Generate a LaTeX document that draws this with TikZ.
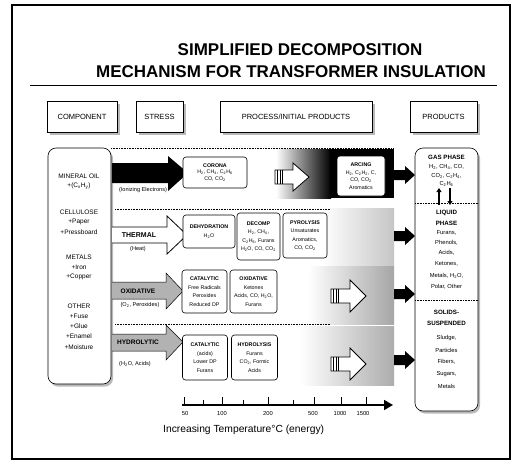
\documentclass[tikz,border=0pt]{standalone}
\usepackage{fontspec}
\setmainfont{Liberation Sans}
\usetikzlibrary{arrows.meta,shadows}
\begin{document}
\begin{tikzpicture}[x=1pt,y=-1pt,
  hdr/.style={draw, fill=white, line width=0.6pt, inner sep=0pt, font=\fontsize{7.5}{8}\selectfont,
    drop shadow={shadow xshift=2.5pt, shadow yshift=-2.5pt, fill=gray!55, opacity=1}},
  procbox/.style={draw, fill=white, rounded corners=3pt, line width=0.6pt, align=center, inner sep=0.5pt,
    font=\fontsize{5.3}{9.5}\selectfont},
  ctext/.style={font=\fontsize{6.5}{7}\selectfont, inner sep=0pt},
  ptext/.style={font=\fontsize{5.8}{6}\selectfont, inner sep=0pt},
  phead/.style={font=\fontsize{6.2}{6.5}\selectfont\bfseries, inner sep=0pt},
  slabel/.style={font=\fontsize{5.6}{6}\selectfont, inner sep=0pt},
  sep/.style={densely dotted, line width=0.6pt},
  blk/.style={fill=black},
  hollow/.style={draw, fill=white, line width=0.8pt},
  grayarrow/.style={draw, fill=gray!60, line width=0.5pt}
]
\useasboundingbox (0,0) rectangle (514,466);
\fill[white] (0,0) rectangle (514,466);
% frame
\draw[line width=1.2pt] (12,5) rectangle (510,459);
% title
\node[font=\fontsize{17}{20}\selectfont\bfseries] (t1) at (300,50) {SIMPLIFIED DECOMPOSITION};
\node[font=\fontsize{17}{20}\selectfont\bfseries] (t2) at (291,72) {MECHANISM FOR TRANSFORMER INSULATION};
\draw[line width=0.5pt] (30,85) -- (497,85);
% headers
\node[hdr, minimum width=70pt, minimum height=31pt] (hcomp) at (82,116.5) {COMPONENT};
\node[hdr, minimum width=47pt, minimum height=31pt] (hstr) at (159.5,116.5) {STRESS};
\node[hdr, minimum width=152pt, minimum height=31pt] (hproc) at (296,116.5) {PROCESS/INITIAL PRODUCTS};
\node[hdr, minimum width=67pt, minimum height=31pt] (hprod) at (443.5,116.5) {PRODUCTS};

% gradient zones
\shade[left color=white, right color=black] (276,149) rectangle (331,198);
\fill[black] (330,149) rectangle (394,198);
\shade[left color=white, right color=gray!45] (322,208) rectangle (394,265);
\shade[left color=white, right color=gray!70] (308,266) rectangle (394,324);
\shade[left color=white, right color=gray!65] (300,326) rectangle (394,385);
% dotted frame lines
\draw[sep] (111,148) -- (394,148);
\draw[sep] (115,209) -- (330,209);
\draw[sep] (115,324) -- (330,324);

% component box
\node[draw, fill=white, rounded corners=8pt, line width=0.6pt, minimum width=63pt, minimum height=236pt,
  drop shadow={shadow xshift=2pt, shadow yshift=-2.5pt, fill=gray!55, opacity=1}] (comp) at (79.5,266) {};
\node[ctext] (c1) at (79,176) {MINERAL OIL};
\node[ctext] (c2) at (79,186) {+(C\textsubscript{x}H\textsubscript{y})};
\node[ctext] (c3) at (79,212) {CELLULOSE};
\node[ctext] (c4) at (79,222) {+Paper};
\node[ctext] (c5) at (79,232) {+Pressboard};
\node[ctext] (c6) at (79,257) {METALS};
\node[ctext] (c7) at (79,267) {+Iron};
\node[ctext] (c8) at (79,277) {+Copper};
\node[ctext] (c9) at (79,306) {OTHER};
\node[ctext] (c10) at (79,316) {+Fuse};
\node[ctext] (c11) at (79,326) {+Glue};
\node[ctext] (c12) at (79,336) {+Enamel};
\node[ctext] (c13) at (79,347) {+Moisture};

% stress arrows
\fill[blk] (112,163) -- (168,163) -- (168,156) -- (188,173) -- (168,191) -- (168,183) -- (112,183) -- cycle;
\node[slabel] (s1) at (143,190) {(Ionizing Electrons)};
\draw[hollow] (112,227) -- (167,227) -- (167,216) -- (187,235) -- (167,254) -- (167,243) -- (112,243);
\node[font=\fontsize{7}{7}\selectfont\bfseries, inner sep=0pt] (s2) at (139,235) {THERMAL};
\node[slabel] (s2b) at (138,249) {(Heat)};
\draw[grayarrow] (112,282) -- (166,282) -- (166,273) -- (183,291) -- (166,309) -- (166,299) -- (112,299);
\node[font=\fontsize{6.5}{7}\selectfont\bfseries, inner sep=0pt] (s3) at (138,291) {OXIDATIVE};
\node[slabel] (s3b) at (140,305) {(O\textsubscript{2}, Peroxides)};
\draw[grayarrow] (112,334) -- (166,334) -- (166,325) -- (183,342) -- (166,360) -- (166,351) -- (112,351);
\node[font=\fontsize{6.5}{7}\selectfont\bfseries, inner sep=0pt] (s4) at (138,342) {HYDROLYTIC};
\node[slabel] (s4b) at (135,364) {(H\textsubscript{2}O, Acids)};

% process boxes row 1
\node[procbox, minimum width=64pt, minimum height=31pt] (corona) at (215,172.5)
  {\textbf{CORONA}\\[-3pt]H\textsubscript{2}, CH\textsubscript{4}, C\textsubscript{2}H\textsubscript{6}\\[-3pt]CO, CO\textsubscript{2}};
\node[procbox, minimum width=48pt, minimum height=40pt] (arcing) at (361,176)
  {\textbf{ARCING}\\[-2pt]H\textsubscript{2}, C\textsubscript{2}H\textsubscript{2}, C,\\[-2pt]CO, CO\textsubscript{2}\\[-2pt]Aromatics};
% row 2
\node[procbox, minimum width=52pt, minimum height=33pt] (dehyd) at (209,231.5)
  {\textbf{DEHYDRATION}\\H\textsubscript{2}O};
\node[procbox, minimum width=43pt, minimum height=47pt] (decomp) at (258.5,236.5)
  {\textbf{DECOMP}\\[-1pt]H\textsubscript{2}, CH\textsubscript{4},\\[-1pt]C\textsubscript{2}H\textsubscript{6}, Furans\\[-1pt]H\textsubscript{2}O, CO, CO\textsubscript{2}};
\node[procbox, minimum width=44pt, minimum height=45pt] (pyro) at (305,235.5)
  {\textbf{PYROLYSIS}\\[-1pt]Unsaturates\\[-1pt]Aromatics,\\[-1pt]CO, CO\textsubscript{2}};
% row 3
\node[procbox, minimum width=45pt, minimum height=43pt] (cat1) at (204.5,291.5)
  {\textbf{CATALYTIC}\\[-1pt]Free Radicals\\[-1pt]Peroxides\\[-1pt]Reduced DP};
\node[procbox, minimum width=47pt, minimum height=43pt] (oxid) at (253.5,291.5)
  {\textbf{OXIDATIVE}\\[-1pt]Ketones\\[-1pt]Acids, CO, H\textsubscript{2}O,\\[-1pt]Furans};
% row 4
\node[procbox, minimum width=45pt, minimum height=45pt] (cat2) at (205,357.5)
  {\textbf{CATALYTIC}\\[-1pt](acids)\\[-1pt]Lower DP\\[-1pt]Furans};
\node[procbox, minimum width=46pt, minimum height=45pt] (hydro) at (254.5,357.5)
  {\textbf{HYDROLYSIS}\\[-1pt]Furans\\[-1pt]CO\textsubscript{2}, Formic\\[-1pt]Acids};

% hollow process arrows
\draw[hollow] (275,170) -- (293,170) -- (293,163) -- (309,177) -- (293,191) -- (293,184) -- (275,184) -- cycle;
\foreach \x in {277.5,280,282.5} \draw[line width=0.5pt] (\x,170) -- (\x,184);
\draw[hollow] (331,289) -- (350,289) -- (350,280) -- (366,296) -- (350,312) -- (350,303) -- (331,303) -- cycle;
\foreach \x in {333.5,336,338.5} \draw[line width=0.5pt] (\x,289) -- (\x,303);
\draw[hollow] (331,357) -- (350,357) -- (350,348) -- (366,364) -- (350,380) -- (350,371) -- (331,371) -- cycle;
\foreach \x in {333.5,336,338.5} \draw[line width=0.5pt] (\x,357) -- (\x,371);

% black arrows to products
\foreach \yy in {175,236,294,360}
  \fill[blk] (394,\yy-5) -- (405,\yy-5) -- (405,\yy-9) -- (415,\yy) -- (405,\yy+9) -- (405,\yy+5) -- (394,\yy+5) -- cycle;

% products box
\node[draw, fill=white, rounded corners=8pt, line width=0.6pt, minimum width=63pt, minimum height=263pt,
  drop shadow={shadow xshift=2pt, shadow yshift=-2.5pt, fill=gray!55, opacity=1}] (prod) at (446.5,279.5) {};
\draw[sep] (415,203) -- (478,203);
\draw[sep] (415,300) -- (478,300);
\node[phead] (p1) at (446.5,157) {GAS PHASE};
\node[ptext] (p2) at (446.5,167) {H\textsubscript{2}, CH\textsubscript{4}, CO,};
\node[ptext] (p3) at (446.5,176) {CO\textsubscript{2}, C\textsubscript{2}H\textsubscript{4},};
\node[ptext] (p4) at (446.5,184) {C\textsubscript{2}H\textsubscript{6}};
\coordinate (ua) at (439,188); \coordinate (ub) at (439,205);
\coordinate (da) at (450,188); \coordinate (db) at (450,205);
\draw[line width=1.6pt, -{Triangle[length=4pt,width=5pt]}] (ub) -- (ua);
\draw[line width=1.6pt, -{Triangle[length=4pt,width=5pt]}] (da) -- (db);
\node[phead] (p5) at (446.5,213) {LIQUID};
\node[phead] (p6) at (446.5,223) {PHASE};
\node[ptext] (p7) at (446.5,233) {Furans,};
\node[ptext] (p8) at (446.5,243) {Phenols,};
\node[ptext] (p9) at (446.5,253) {Acids,};
\node[ptext] (p10) at (446.5,264) {Ketones,};
\node[ptext] (p11) at (446.5,276) {Metals, H\textsubscript{2}O,};
\node[ptext] (p12) at (446.5,287) {Polar, Other};
\node[phead] (p13) at (446.5,312) {SOLIDS-};
\node[phead] (p14) at (446.5,323) {SUSPENDED};
\node[ptext] (p15) at (446.5,338) {Sludge,};
\node[ptext] (p16) at (446.5,350) {Particles};
\node[ptext] (p17) at (446.5,362) {Fibers,};
\node[ptext] (p18) at (446.5,374) {Sugars,};
\node[ptext] (p19) at (446.5,386) {Metals};

% temperature axis
\coordinate (ax0) at (182,405);
\coordinate (ax1) at (393,405);
\draw[line width=1.6pt, -{Triangle[length=9pt,width=10pt]}] (ax0) -- (ax1);
\foreach \x in {184,222,268,314,341,366} \draw[line width=0.6pt] (\x,405) -- (\x,397);
\foreach \x in {203,243,293} \draw[line width=0.6pt] (\x,405) -- (\x,400);
\foreach \x/\l in {185/50,222/100,268/200,313/500,340/1000,363/1500}
  \node[font=\fontsize{5.8}{6}\selectfont, inner sep=0pt] at (\x,413) {\l};
\node[font=\fontsize{10.3}{11}\selectfont, inner sep=0pt, anchor=west] (axl) at (163,430) {Increasing Temperature°C (energy)};
\end{tikzpicture}
\end{document}
